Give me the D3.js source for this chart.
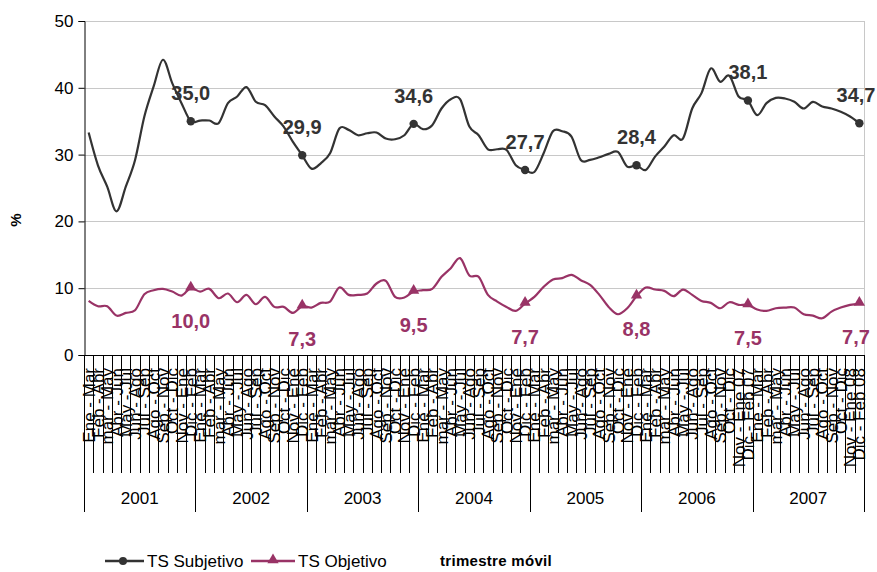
<!DOCTYPE html>
<html>
<head>
<meta charset="utf-8">
<script src="https://cdn.jsdelivr.net/npm/d3@7"></script>
<style>
  html, body { margin: 0; padding: 0; background: #fff; }
  svg { display: block; font-family: "Liberation Sans", Arial, sans-serif; }
</style>
</head>
<body>
<svg id="chart" width="877" height="572"></svg>
<script>
// ---- DATA ----
const years = ["2001", "2002", "2003", "2004", "2005", "2006", "2007"];
const quarterLabels = ["Ene - Mar", "Feb - Abr", "mar - May", "Abr - Jun", "May - Jul", "Jun - Ago",
                       "Jul - Sep", "Ago - Oct", "Sep - Nov", "Oct - Dic", "Nov - Ene", "Dic - Feb"];
const yearEndSuffix = {"2006": " 07", "2007": " 08"};

const tsSubjetivo = [
  33.3, 28.4, 25.2, 21.5, 25.2, 29.2, 35.7, 40.2, 44.2, 40.7, 37.7, 35.0,
  35.1, 35.1, 34.7, 37.7, 38.7, 40.1, 37.9, 37.4, 35.7, 34.2, 31.9, 29.9,
  27.9, 28.7, 30.2, 33.9, 33.7, 32.9, 33.2, 33.3, 32.4, 32.3, 32.9, 34.6,
  33.8, 34.4, 36.9, 38.3, 38.3, 34.2, 32.9, 30.8, 30.8, 30.7, 28.4, 27.7,
  27.4, 30.2, 33.5, 33.5, 32.7, 29.2, 29.2, 29.6, 30.1, 30.4, 28.2, 28.4,
  27.7, 29.7, 31.2, 32.9, 32.4, 36.9, 39.2, 42.9, 40.9, 41.8, 38.7, 38.1,
  35.9, 37.7, 38.5, 38.4, 37.9, 36.9, 37.9, 37.2, 36.9, 36.4, 35.7, 34.7
];
const tsObjetivo = [
  8.1, 7.3, 7.3, 5.9, 6.3, 6.7, 9.1, 9.7, 9.9, 9.5, 8.9, 10.0,
  9.5, 9.9, 8.5, 9.2, 7.9, 9.0, 7.6, 8.7, 7.2, 7.2, 6.3, 7.3,
  7.1, 7.8, 8.0, 10.1, 9.0, 9.0, 9.2, 10.7, 11.1, 8.7, 8.6, 9.5,
  9.7, 9.9, 11.7, 13.0, 14.5, 11.9, 11.7, 9.0, 8.0, 7.2, 6.6, 7.7,
  8.7, 10.2, 11.3, 11.5, 12.0, 11.2, 10.5, 9.0, 7.2, 6.1, 7.0, 8.8,
  10.1, 9.8, 9.6, 8.8, 9.8, 9.0, 8.1, 7.8, 7.0, 7.9, 7.5, 7.5,
  6.8, 6.6, 7.0, 7.1, 7.1, 6.1, 5.9, 5.5, 6.5, 7.1, 7.5, 7.7
];
const yTicks = [0, 10, 20, 30, 40, 50];
const seriesNames = ["TS Subjetivo", "TS Objetivo"];
const xAxisTitle = "trimestre móvil";
const yAxisTitle = "%";

// ---- BUILD ----
const categories = [];
years.forEach(yr => quarterLabels.forEach((q, k) => {
  const suffix = (k >= 10 && yearEndSuffix[yr]) ? yearEndSuffix[yr] : "";
  categories.push({label: q + suffix, year: yr});
}));
const idx = d3.range(categories.length);

const W = 877;
const colSub = "#333333", colObj = "#993366";
const pLeft = 84, pRight = 864, pTop = 21, pBottom = 355;

const svg = d3.select("#chart");
const x = d3.scaleBand().domain(idx).range([pLeft, pRight]).padding(0);
const xc = i => x(i) + x.bandwidth() / 2;
const y = d3.scaleLinear().domain([0, 50]).range([pBottom, pTop]);

// gridlines
svg.append("g").selectAll("line").data(yTicks.filter(t => t > 0)).join("line")
  .attr("x1", pLeft).attr("x2", pRight)
  .attr("y1", d => Math.round(y(d)) + 0.5).attr("y2", d => Math.round(y(d)) + 0.5)
  .attr("stroke", "#c8c8c8").attr("stroke-width", 1);

// right border of plot area
svg.append("line").attr("x1", pRight + 0.5).attr("x2", pRight + 0.5)
  .attr("y1", pTop).attr("y2", pBottom).attr("stroke", "#c8c8c8");

// y axis
const yAxis = svg.append("g").attr("transform", `translate(${pLeft + 0.5},0)`)
  .call(d3.axisLeft(y).tickValues(yTicks).tickSize(6).tickPadding(5).tickFormat(d3.format("d")));
yAxis.select(".domain").attr("stroke", "#000");
yAxis.selectAll(".tick line").attr("stroke", "#000");
yAxis.selectAll("text").attr("font-size", 17).attr("fill", "#000")
  .attr("font-family", "Liberation Sans, Arial, sans-serif");

svg.append("text").text(yAxisTitle)
  .attr("transform", `translate(21,220) rotate(-90)`)
  .attr("text-anchor", "middle").attr("font-size", 15).attr("font-weight", "bold");

// x axis line
svg.append("line").attr("x1", pLeft).attr("x2", pRight)
  .attr("y1", pBottom + 0.5).attr("y2", pBottom + 0.5).attr("stroke", "#000");

// category boundary ticks
const bounds = d3.range(categories.length + 1);
svg.append("g").selectAll("line").data(bounds).join("line")
  .attr("x1", j => Math.round(pLeft + j * x.step()) + 0.5)
  .attr("x2", j => Math.round(pLeft + j * x.step()) + 0.5)
  .attr("y1", pBottom)
  .attr("y2", j => (j % 12 === 0) ? 512 : 473)
  .attr("stroke", "#000").attr("stroke-width", 1);

// category labels
svg.append("g").selectAll("text").data(idx).join("text")
  .text(i => categories[i].label)
  .attr("transform", i => `translate(${xc(i) + 6},368) rotate(-90)`)
  .attr("text-anchor", "end").attr("font-size", 17).attr("fill", "#000");

// year labels
svg.append("g").selectAll("text").data(years).join("text")
  .text(d => d)
  .attr("x", (d, k) => (xc(k * 12) + xc(k * 12 + 11)) / 2)
  .attr("y", 504)
  .attr("text-anchor", "middle").attr("font-size", 17).attr("fill", "#000");

// lines
const line = d3.line().x(d => xc(d.i)).y(d => y(d.v)).curve(d3.curveCatmullRom.alpha(0));
const subPts = tsSubjetivo.map((v, i) => ({i, v}));
const objPts = tsObjetivo.map((v, i) => ({i, v}));

svg.append("path").datum(subPts).attr("d", line)
  .attr("fill", "none").attr("stroke", colSub).attr("stroke-width", 2.2).attr("stroke-linejoin", "round");
svg.append("path").datum(objPts).attr("d", line)
  .attr("fill", "none").attr("stroke", colObj).attr("stroke-width", 2.2).attr("stroke-linejoin", "round");

// markers at Dic-Feb points
const markIdx = idx.filter(i => i % 12 === 11);
const fmt = v => d3.format(".1f")(v).replace(".", ",");
const tri = d3.symbol().type(d3.symbolTriangle).size(55);

svg.append("g").selectAll("circle").data(markIdx).join("circle")
  .attr("cx", i => xc(i)).attr("cy", i => y(tsSubjetivo[i])).attr("r", 4.2).attr("fill", colSub);
svg.append("g").selectAll("path").data(markIdx).join("path")
  .attr("d", tri).attr("transform", i => `translate(${xc(i)},${y(tsObjetivo[i]) - 1})`).attr("fill", colObj);

const labelX = i => Math.min(xc(i), W - 21);
svg.append("g").selectAll("text").data(markIdx).join("text")
  .text(i => fmt(tsSubjetivo[i]))
  .attr("x", labelX).attr("y", i => y(tsSubjetivo[i]) - 21)
  .attr("text-anchor", "middle").attr("font-size", 20).attr("font-weight", "bold").attr("fill", colSub);
svg.append("g").selectAll("text").data(markIdx).join("text")
  .text(i => fmt(tsObjetivo[i]))
  .attr("x", labelX).attr("y", i => y(tsObjetivo[i]) + 40)
  .attr("text-anchor", "middle").attr("font-size", 20).attr("font-weight", "bold").attr("fill", colObj);

// legend
const lg = svg.append("g");
lg.append("line").attr("x1", 105).attr("x2", 144).attr("y1", 561).attr("y2", 561)
  .attr("stroke", colSub).attr("stroke-width", 2.4);
lg.append("circle").attr("cx", 123).attr("cy", 561).attr("r", 4).attr("fill", colSub);
lg.append("text").text(seriesNames[0]).attr("x", 147).attr("y", 567)
  .attr("font-size", 17).attr("fill", "#000");
lg.append("line").attr("x1", 251).attr("x2", 295).attr("y1", 561).attr("y2", 561)
  .attr("stroke", colObj).attr("stroke-width", 2.4);
lg.append("path").attr("d", tri).attr("transform", "translate(273,560)").attr("fill", colObj);
lg.append("text").text(seriesNames[1]).attr("x", 298).attr("y", 567)
  .attr("font-size", 17).attr("fill", "#000");
lg.append("text").text(xAxisTitle).attr("x", 440).attr("y", 566)
  .attr("font-size", 15).attr("font-weight", "bold").attr("letter-spacing", 0.3).attr("fill", "#000");
</script>
</body>
</html>
